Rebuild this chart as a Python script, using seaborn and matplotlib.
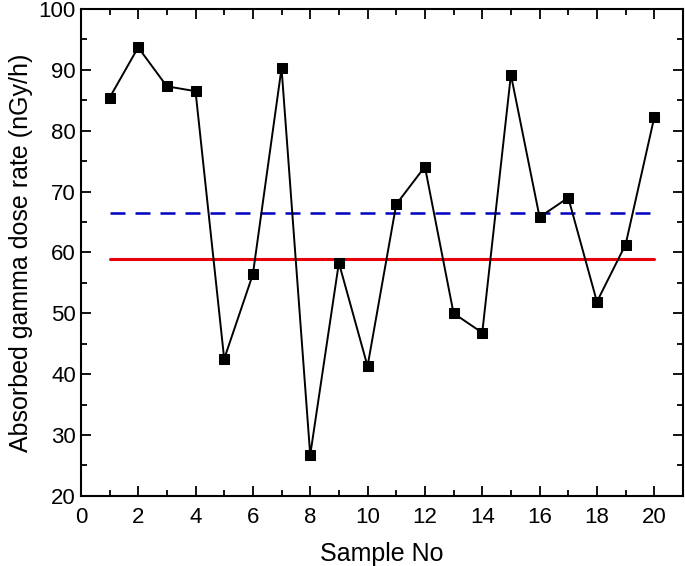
import numpy as np
import pandas as pd
import seaborn as sns
import matplotlib.pyplot as plt
from matplotlib.ticker import MultipleLocator

sample_no = list(range(1, 21))
dose_rate = [85.4, 93.7, 87.3, 86.5, 42.5, 56.4, 90.3, 26.7, 58.3, 41.3,
             67.9, 74.1, 50.0, 46.8, 89.2, 65.8, 69.0, 51.9, 61.3, 82.2]
world_avg = 59.0
mean_rate = 66.4

sns.set_style("ticks")
plt.rcParams['font.family'] = ['Liberation Sans', 'DejaVu Sans']
plt.rcParams['text.color'] = 'black'
plt.rcParams['axes.labelcolor'] = 'black'

df = pd.DataFrame({'Sample No': sample_no, 'rate': dose_rate})

fig = plt.figure(figsize=(6.85, 5.66), dpi=100)
ax = fig.add_axes([0.118, 0.124, 0.879, 0.860])

ax.plot([sample_no[0], sample_no[-1]], [mean_rate, mean_rate], color='#0000c0',
        linestyle=(0, (6, 4)), linewidth=1.8)
ax.plot([sample_no[0], sample_no[-1]], [world_avg, world_avg], color='#e8000b',
        linewidth=2.2)
sns.lineplot(data=df, x='Sample No', y='rate', ax=ax, color='black', linewidth=1.4,
             marker='s', markersize=7.5, markeredgecolor='black')

ax.set_xlim(0, 21)
ax.set_ylim(20, 100)
ax.xaxis.set_major_locator(MultipleLocator(2))
ax.xaxis.set_minor_locator(MultipleLocator(1))
ax.yaxis.set_major_locator(MultipleLocator(10))
ax.yaxis.set_minor_locator(MultipleLocator(5))
ax.tick_params(which='both', direction='in', top=True, right=True, labelsize=16,
               width=1.3, colors='black')
ax.tick_params(which='major', length=7)
ax.tick_params(which='minor', length=4)
ax.tick_params(axis='x', pad=8)
for s in ax.spines.values():
    s.set_linewidth(1.5)
    s.set_color('black')
ax.set_xlabel('Sample No', fontsize=18, labelpad=10)
ax.set_ylabel('Absorbed gamma dose rate (nGy/h)', fontsize=18, labelpad=4)

fig.savefig('out.png', dpi=100)
